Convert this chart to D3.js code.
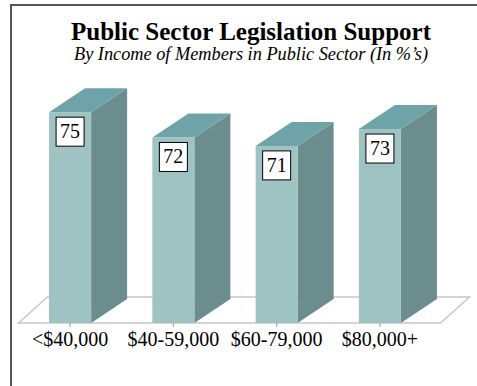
<!DOCTYPE html>
<meta charset="utf-8">
<style>
body { margin: 0; background: #fff; }
.axis line { stroke: #999; }
.axis path { display: none; }
</style>
<body>
<script src="https://d3js.org/d3.v7.min.js"></script>
<script>
var categories = ["<$40,000", "$40-59,000", "$60-79,000", "$80,000+"];
var support = [75, 72, 71, 73];
var title = "Public Sector Legislation Support";
var subtitle = "By Income of Members in Public Sector (In %\u2019s)";

var W = 477, H = 386;
var serif = "'Liberation Serif', 'Times New Roman', serif";
var depth = {dx: 36, dy: -24};   // bar depth offset
var floorDepth = {dx: 29, dy: -26};

var svg = d3.select("body").append("svg")
  .attr("width", W)
  .attr("height", H);

// frame
svg.append("path")
  .attr("d", "M11," + H + "V5H" + W)
  .attr("fill", "none")
  .attr("stroke", "#555")
  .attr("stroke-width", 2);

svg.append("text")
  .attr("x", 251).attr("y", 40)
  .attr("text-anchor", "middle")
  .style("font-family", serif)
  .style("font-weight", "bold")
  .style("font-size", "25px")
  .text(title);

svg.append("text")
  .attr("x", 251).attr("y", 60)
  .attr("text-anchor", "middle")
  .style("font-family", serif)
  .style("font-style", "italic")
  .style("font-size", "18.3px")
  .text(subtitle);

var x = d3.scaleBand()
  .domain(categories)
  .range([18.5, 431.5])
  .paddingInner(0.593)
  .paddingOuter(0.296);

var y = d3.scaleLinear()
  .domain([50, 80])
  .range([323, 70]);

var base = y(50);

// floor
var fl = x.range()[0], fr = x.range()[1] + 9;
svg.append("path")
  .attr("d", "M" + fl + "," + base + "L" + fr + "," + base +
    "L" + (fr + floorDepth.dx) + "," + (base + floorDepth.dy) +
    "L" + (fl + floorDepth.dx) + "," + (base + floorDepth.dy) + "Z")
  .attr("fill", "#fff")
  .attr("stroke", "#c8c8c8")
  .attr("stroke-width", 1.5);

// axis
var gx = svg.append("g")
  .attr("class", "x axis")
  .attr("transform", "translate(0," + base + ")")
  .call(d3.axisBottom(x).tickSize(4).tickPadding(5));
gx.selectAll("text")
  .style("font-family", serif)
  .style("font-size", "20px")
  .style("fill", "#000");

var data = categories.map(function (c, i) { return {cat: c, value: support[i]}; });
var bw = x.bandwidth();

var bars = svg.selectAll(".bar")
  .data(data)
  .enter().append("g")
  .attr("class", "bar");

// side face
bars.append("path")
  .attr("fill", "#6c8d8e")
  .attr("d", function (d) {
    var x1 = x(d.cat) + bw, t = y(d.value);
    return "M" + x1 + "," + base + "L" + x1 + "," + t +
      "l" + depth.dx + "," + depth.dy + "L" + (x1 + depth.dx) + "," + (base + depth.dy) + "Z";
  });

// top face
bars.append("path")
  .attr("fill", "#6ea3a8")
  .attr("d", function (d) {
    var x0 = x(d.cat), t = y(d.value);
    return "M" + x0 + "," + t + "h" + bw + "l" + depth.dx + "," + depth.dy +
      "h" + (-bw) + "Z";
  });

// front face
bars.append("rect")
  .attr("fill", "#9fc3c3")
  .attr("x", function (d) { return x(d.cat); })
  .attr("y", function (d) { return y(d.value); })
  .attr("width", bw)
  .attr("height", function (d) { return base - y(d.value); });

// value boxes
bars.append("rect")
  .attr("fill", "#fff")
  .attr("stroke", "#000")
  .attr("x", function (d) { return x(d.cat) + bw / 2 - 14; })
  .attr("y", function (d) { return y(d.value) + 5; })
  .attr("width", 28)
  .attr("height", 29);

bars.append("text")
  .attr("text-anchor", "middle")
  .style("font-family", serif)
  .style("font-size", "20px")
  .attr("x", function (d) { return x(d.cat) + bw / 2; })
  .attr("y", function (d) { return y(d.value) + 26; })
  .text(function (d) { return d.value; });
</script>
</body>
